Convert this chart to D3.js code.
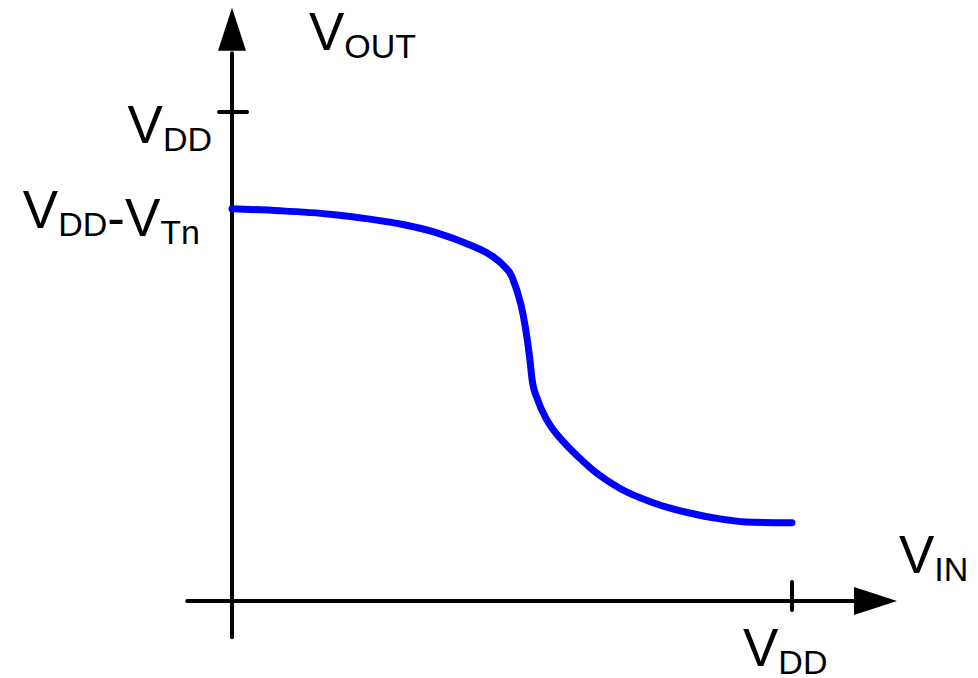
<!DOCTYPE html>
<html>
<head>
<meta charset="utf-8">
<script src="https://cdn.jsdelivr.net/npm/d3@7"></script>
<style>
  html, body { margin: 0; padding: 0; background: #fff; }
  text { font-family: "Liberation Sans", Arial, sans-serif; fill: #000; }
</style>
</head>
<body>
<div id="chart"></div>
<script>
// Input voltage (fraction of VDD) and output voltage (fraction of VDD) along the transfer curve
const vin = [0, 0.086, 0.175, 0.246, 0.305, 0.366, 0.425, 0.461, 0.484, 0.500,
             0.532, 0.536, 0.546, 0.5625, 0.589, 0.621, 0.654, 0.693, 0.752, 0.813, 0.871, 0.930, 1.0];
const vout = [0.802, 0.798, 0.791, 0.781, 0.770, 0.753, 0.728, 0.708, 0.687, 0.663,
              0.493, 0.452, 0.411, 0.370, 0.329, 0.292, 0.259, 0.230, 0.201, 0.181, 0.168, 0.161, 0.160];

const tickValues = [1];          // VDD on both axes
const xAxisLabel = ["V", "IN"];
const yAxisLabel = ["V", "OUT"];
const xTickLabel = ["V", "DD"];
const yTickLabel = ["V", "DD"];
const levelLabel = [["V", "DD"], ["-V", "Tn"]];
const levelValue = 0.802;       // VDD - VTn

const w = 978, h = 678;
const x = d3.scaleLinear().domain([0, 1]).range([232, 792]);
const y = d3.scaleLinear().domain([0, 1]).range([601, 112]);

const svg = d3.select("#chart").append("svg")
  .attr("width", w)
  .attr("height", h);

// axes
svg.append("line")
  .attr("x1", x(-0.08)).attr("x2", x(1.12))
  .attr("y1", y(0)).attr("y2", y(0))
  .attr("stroke", "#000").attr("stroke-width", 4).attr("stroke-linecap", "round");
svg.append("line")
  .attr("x1", x(0)).attr("x2", x(0))
  .attr("y1", y(-0.074)).attr("y2", y(1.12))
  .attr("stroke", "#000").attr("stroke-width", 4).attr("stroke-linecap", "round");

// arrowheads
const xt = x(1.1875), yt = y(1.213);
svg.append("path")
  .attr("d", `M${xt},${y(0)} L${xt - 43},${y(0) - 14} L${xt - 43},${y(0) + 14} Z`)
  .attr("fill", "#000");
svg.append("path")
  .attr("d", `M${x(0)},${yt} L${x(0) - 14},${yt + 43} L${x(0) + 14},${yt + 43} Z`)
  .attr("fill", "#000");

// VDD ticks
tickValues.forEach(v => {
  svg.append("line")
    .attr("x1", x(v)).attr("x2", x(v))
    .attr("y1", y(0) - 19).attr("y2", y(0) + 9)
    .attr("stroke", "#000").attr("stroke-width", 4).attr("stroke-linecap", "round");
  svg.append("line")
    .attr("x1", x(0) - 13).attr("x2", x(0) + 15)
    .attr("y1", y(v)).attr("y2", y(v))
    .attr("stroke", "#000").attr("stroke-width", 4).attr("stroke-linecap", "round");
});

// transfer curve
const pts = vin.map((d, i) => [d, vout[i]]);
const line = d3.line()
  .x(d => x(d[0]))
  .y(d => y(d[1]))
  .curve(d3.curveMonotoneX);
svg.append("path")
  .datum(pts)
  .attr("d", line)
  .attr("fill", "none")
  .attr("stroke", "#0000ff")
  .attr("stroke-width", 7)
  .attr("stroke-linecap", "round")
  .attr("stroke-linejoin", "round");

// label with subscripts: parts = [[main, sub], ...]
function label(px, py, parts, anchor) {
  const t = svg.append("text")
    .attr("x", px).attr("y", py)
    .attr("text-anchor", anchor || "start");
  parts.forEach(p => {
    t.append("tspan").attr("font-size", 53).attr("dy", 0).text(p[0]);
    t.append("tspan").attr("font-size", 34).attr("dy", 8).text(p[1]);
    t.append("tspan").attr("font-size", 34).attr("dy", -8).text("");
  });
  return t;
}

label(309, 50, [yAxisLabel]);
label(899, 573, [xAxisLabel]);
label(x(1) - 49, 666, [xTickLabel]);
label(x(0) - 20, y(1) + 31, [yTickLabel], "end");
label(x(0) - 32, y(levelValue) + 19, levelLabel, "end");
</script>
</body>
</html>
